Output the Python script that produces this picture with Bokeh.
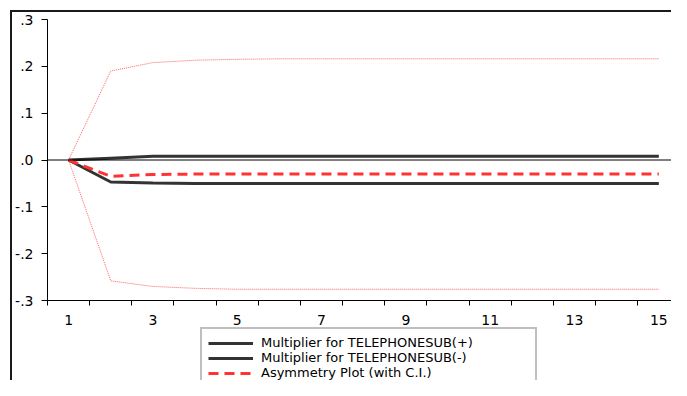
from bokeh.plotting import figure
from bokeh.layouts import column
from bokeh.models import (FixedTicker, CustomJSTickFormatter, Span, Legend, LegendItem, Range1d)
from bokeh.embed import file_html
from bokeh.resources import INLINE

# ---- data ----
periods = list(range(1, 16))
mult_pos = [0.0, 0.004, 0.008, 0.008, 0.008, 0.008, 0.008, 0.008, 0.008, 0.008, 0.008, 0.008, 0.008, 0.008, 0.008]
mult_neg = [0.0, -0.047, -0.049, -0.050, -0.050, -0.050, -0.050, -0.050, -0.050, -0.050, -0.050, -0.050, -0.050, -0.050, -0.050]
asym = [0.0, -0.035, -0.031, -0.030, -0.030, -0.030, -0.030, -0.030, -0.030, -0.030, -0.030, -0.030, -0.030, -0.030, -0.030]
ci_upper = [0.0, 0.190, 0.208, 0.213, 0.215, 0.216, 0.216, 0.216, 0.216, 0.216, 0.216, 0.216, 0.216, 0.216, 0.216]
ci_lower = [0.0, -0.258, -0.270, -0.274, -0.276, -0.276, -0.276, -0.276, -0.276, -0.276, -0.276, -0.276, -0.276, -0.276, -0.276]

y_ticks = [-0.3, -0.2, -0.1, 0.0, 0.1, 0.2, 0.3]
y_tick_labels = ["-.3", "-.2", "-.1", ".0", ".1", ".2", ".3"]
x_label_ticks = [1, 3, 5, 7, 9, 11, 13, 15]
x_boundary_ticks = [0.5 + i for i in range(16)]

legend_labels = ["Multiplier for TELEPHONESUB(+)", "Multiplier for TELEPHONESUB(-)", "Asymmetry Plot (with C.I.)"]

FONT = "DejaVu Sans"
DARK = "#333333"
RED = "#ff3333"
CI_RED = "#ff3b3b"

W = 659
p = figure(width=W, height=315, output_backend="svg", toolbar_location=None,
           x_range=Range1d(0.5, 15.3), y_range=Range1d(-0.3, 0.3),
           min_border_left=34, min_border_top=7, min_border_bottom=27, min_border_right=0)
p.frame_align = False
p.outline_line_color = None
p.grid.visible = False
p.background_fill_color = "white"
p.border_fill_color = "white"

# y axis
p.yaxis.ticker = FixedTicker(ticks=y_ticks)
p.yaxis.formatter = CustomJSTickFormatter(args=dict(vals=y_ticks, labs=y_tick_labels), code="""
for (let i = 0; i < vals.length; i++) { if (Math.abs(vals[i] - tick) < 1e-9) return labs[i]; }
return '';
""")
p.yaxis.major_tick_out = 6
p.yaxis.major_tick_in = 0
p.yaxis.minor_tick_line_color = None
p.yaxis.major_label_standoff = 8
p.yaxis.major_tick_line_color = "black"

# x axis
p.xaxis.ticker = FixedTicker(ticks=x_label_ticks, minor_ticks=x_boundary_ticks)
p.xaxis.major_tick_line_color = None
p.xaxis.major_tick_out = 0
p.xaxis.major_tick_in = 0
p.xaxis.minor_tick_out = 5
p.xaxis.minor_tick_in = 0
p.xaxis.minor_tick_line_color = "black"
p.xaxis.major_label_standoff = 9

for ax in (p.xaxis, p.yaxis):
    ax.axis_line_color = "black"
    ax.axis_line_width = 1
    ax.major_label_text_font = FONT
    ax.major_label_text_font_size = "14px"
    ax.major_label_text_color = "black"

# confidence band
p.line(periods, ci_upper, line_color=CI_RED, line_width=1, line_dash="1 1", line_alpha=0.8)
p.line(periods, ci_lower, line_color=CI_RED, line_width=1, line_dash="1 1", line_alpha=0.8)

p.add_layout(Span(location=0, dimension="width", line_color="black", line_width=1))

p.line(periods, mult_pos, line_color=DARK, line_width=3)
p.line(periods, mult_neg, line_color=DARK, line_width=3)
p.line(periods, asym, line_color=RED, line_width=3, line_dash="10 6")

# legend strip (separate small figure below the chart; its series lie outside its view)
q = figure(width=W, height=53, output_backend="svg", toolbar_location=None,
           x_axis_location=None, y_axis_location=None,
           x_range=Range1d(-20, -19), y_range=Range1d(-20, -19),
           min_border_left=188, min_border_top=0, min_border_bottom=0, min_border_right=0)
q.frame_align = False
q.outline_line_color = None
q.grid.visible = False
q.border_fill_color = "white"
q.background_fill_color = "white"
k_pos = q.line(periods, mult_pos, line_color=DARK, line_width=3)
k_neg = q.line(periods, mult_neg, line_color=DARK, line_width=3)
k_asym = q.line(periods, asym, line_color=RED, line_width=3, line_dash="10 6")

legend = Legend(items=[LegendItem(label=legend_labels[0], renderers=[k_pos]),
                       LegendItem(label=legend_labels[1], renderers=[k_neg]),
                       LegendItem(label=legend_labels[2], renderers=[k_asym])],
                location="top_left", orientation="vertical")
legend.label_text_font = FONT
legend.label_text_font_size = "13px"
legend.label_text_color = "black"
legend.glyph_width = 45
legend.glyph_height = 14
legend.label_height = 14
legend.label_width = 268
legend.spacing = 0
legend.padding = 6
legend.margin = 0
legend.label_standoff = 8
legend.border_line_color = "#808080"
legend.border_line_width = 2
legend.background_fill_color = "white"
legend.background_fill_alpha = 1
q.add_layout(legend, "center")

inner = column(p, q, spacing=0,
               styles={"border-left": "2px solid #1a1a1a", "border-top": "2px solid #1a1a1a"})
root = column(inner, styles={"padding-left": "10px", "padding-top": "10px"})
open("out.html", "w").write(file_html(root, INLINE))
